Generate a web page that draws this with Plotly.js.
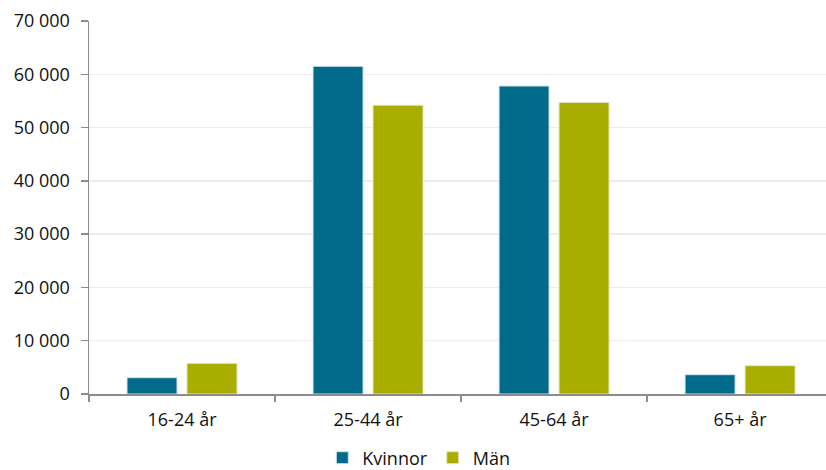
<!DOCTYPE html>
<html><head><meta charset="utf-8">
<script src="https://cdn.plot.ly/plotly-3.0.1.min.js"></script>
<style>html,body{margin:0;padding:0;background:#fff}#c{width:826px;height:470px}</style>
</head><body><div id="c"></div>
<script>
const categories = ["16-24 år", "25-44 år", "45-64 år", "65+ år"];
const kvinnor = [3060, 61500, 57800, 3620];
const man = [5760, 54200, 54700, 5310];
const yTicks = [0, 10000, 20000, 30000, 40000, 50000, 60000, 70000];
const yTickText = ["0", "10 000", "20 000", "30 000", "40 000", "50 000", "60 000", "70 000"];

const font = {family: "'Open Sans', Lato, sans-serif", size: 18, color: "#111"};
const traces = [
  {type: "bar", name: "Kvinnor", x: categories, y: kvinnor,
   marker: {color: "#006A8A", line: {color: "#cfe3ea", width: 1}}},
  {type: "bar", name: "Män", x: categories, y: man,
   marker: {color: "#A8AD00", line: {color: "#e6e8b8", width: 1}}}
];
const layout = {
  width: 826, height: 470,
  margin: {l: 89, r: 0, t: 21, b: 76, autoexpand: false},
  paper_bgcolor: "#fff", plot_bgcolor: "#fff",
  barmode: "group", bargap: 0.355, bargroupgap: 0.1667,
  font: font,
  showlegend: true,
  legend: {orientation: "h", xref: "container", yref: "container", x: 0.507, xanchor: "center",
           y: 0.0255, yanchor: "middle", font: font, itemwidth: 30, traceorder: "normal"},
  xaxis: {type: "category", range: [-0.5, 3.462], showline: true, linecolor: "#8c8c8c", linewidth: 1.5,
          ticks: "outside", tickson: "boundaries", ticklen: 6, tickcolor: "#8c8c8c", tickwidth: 1.5,
          ticklabelstandoff: 9, showgrid: false, tickfont: font, fixedrange: true, automargin: false},
  yaxis: {range: [0, 70000], tickvals: yTicks, ticktext: yTickText, showline: true,
          linecolor: "#8c8c8c", linewidth: 1.5, ticks: "outside", ticklen: 7, tickcolor: "#8c8c8c",
          tickwidth: 1.5, ticklabelstandoff: 7, gridcolor: "#ececec", gridwidth: 1.5, zeroline: false,
          tickfont: font, automargin: false}
};
Plotly.newPlot("c", traces, layout, {displayModeBar: false, staticPlot: true});
</script></body></html>
